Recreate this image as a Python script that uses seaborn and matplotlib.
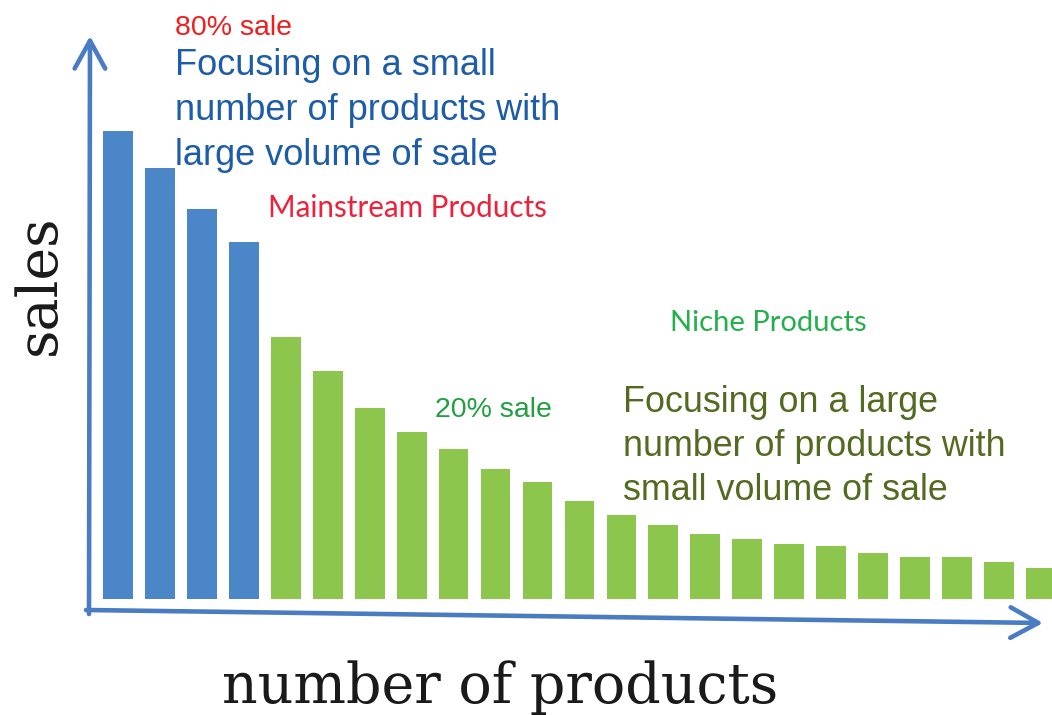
import matplotlib
matplotlib.use("Agg")
import matplotlib.pyplot as plt
import seaborn as sns
import pandas as pd

# Sales per product, ranked from best seller to the long tail
mainstream_sales = [468, 431, 390, 357]
niche_sales = [262, 228, 191, 167, 150, 130, 117, 98, 84, 74, 65, 60, 55, 53, 46, 42, 42, 37, 31]
segment_names = ["Mainstream Products", "Niche Products"]
segment_colors = {"Mainstream Products": "#4a86c8", "Niche Products": "#8cc64c"}

sales = mainstream_sales + niche_sales
segments = [segment_names[0]] * len(mainstream_sales) + [segment_names[1]] * len(niche_sales)
df = pd.DataFrame({"rank": range(1, len(sales) + 1), "sales": sales, "segment": segments})

sns.set_style("white")
W, H = 1052, 715
fig = plt.figure(figsize=(W / 100, H / 100), dpi=100)
ax = fig.add_axes([0, 0, 1, 1])

sns.barplot(data=df, x="rank", y="sales", hue="segment", palette=segment_colors,
            dodge=False, width=0.71, saturation=1, legend=False, ax=ax, linewidth=0)
ax.set_xlim(-2.813, 22.265)
ax.set_ylim(-116, 599)
ax.axis("off")


def fx(px):
    return px / W


def fy(py):
    return 1 - py / H


# Hand-drawn style axis arrows
arrow_color = "#4a7cc4"
arrow_kw = dict(arrowstyle="->,head_length=0.4,head_width=0.22", lw=3.3, color=arrow_color,
                mutation_scale=50, shrinkA=0, shrinkB=0, capstyle="round", joinstyle="round")
ax.annotate("", xy=(fx(90), fy(36)), xytext=(fx(89), fy(614)),
            xycoords="figure fraction", textcoords="figure fraction", arrowprops=arrow_kw)
ax.annotate("", xy=(fx(1043), fy(623)), xytext=(fx(86), fy(610)),
            xycoords="figure fraction", textcoords="figure fraction", arrowprops=arrow_kw)

# Axis titles
serif = "DejaVu Serif"
fig.text(fx(500), fy(703), "number of products", family=serif, fontsize=40,
         color="#1a1a1a", ha="center", va="baseline")
fig.text(fx(40), fy(285), "sales", family=serif, fontsize=40, color="#1a1a1a",
         rotation=90, ha="center", va="center", rotation_mode="anchor")

# Annotations
sans = "Liberation Sans"
fig.text(fx(175), fy(35), "80% sale", family=sans, fontsize=20.5, color="#f21c1c", va="baseline")
for i, line in enumerate(["Focusing on a small", "number of products with", "large volume of sale"]):
    fig.text(fx(175), fy(75 + 45 * i), line, family=sans, fontsize=26, color="#1d5ca8", va="baseline")

fig.text(fx(268), fy(217), "Mainstream Products", family="Lato", fontsize=21.3,
         color="#f0203a", va="baseline")
fig.text(fx(670), fy(331), "Niche Products", family="Lato", fontsize=21,
         color="#22b04a", va="baseline")
fig.text(fx(435), fy(417), "20% sale", family=sans, fontsize=20.5, color="#20a040", va="baseline")
for i, line in enumerate(["Focusing on a large", "number of products with", "small volume of sale"]):
    fig.text(fx(623), fy(412 + 44 * i), line, family=sans, fontsize=25.8, color="#526b21", va="baseline")

fig.savefig("out.png", dpi=100)
